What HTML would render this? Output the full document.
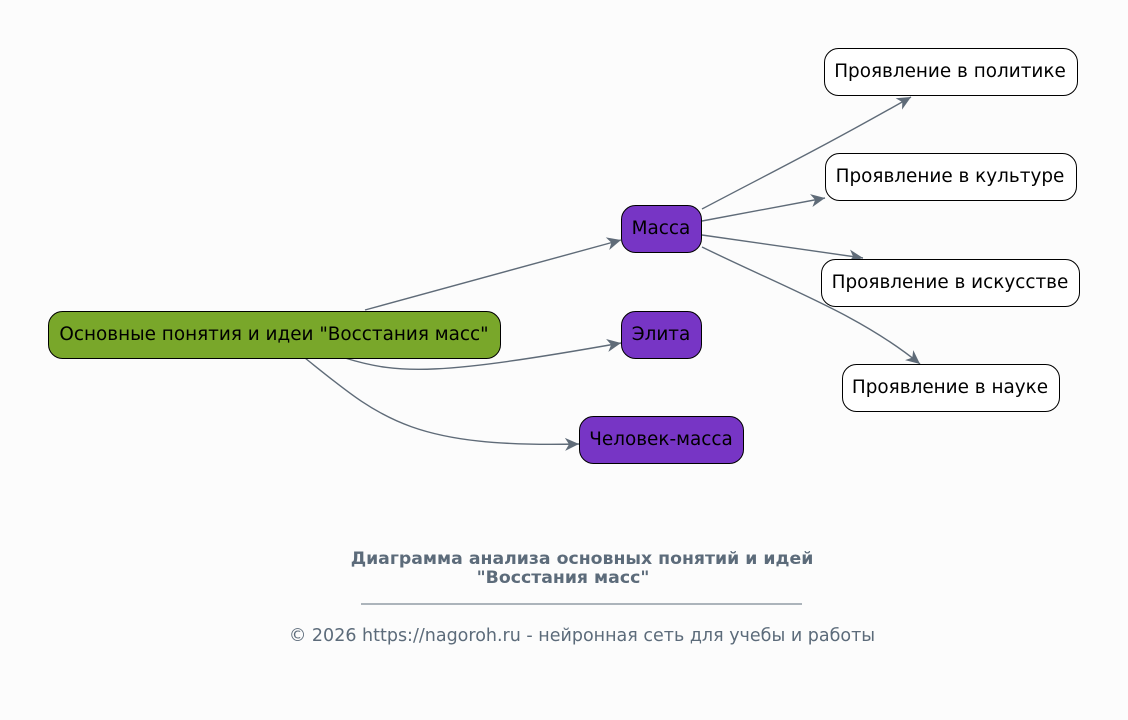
<!DOCTYPE html>
<html><head><meta charset="utf-8"><style>
html,body{margin:0;background:#fcfcfc;overflow:hidden;width:1128px;height:720px;}
svg{display:block;}
svg text{font-family:"DejaVu Sans","Liberation Sans",sans-serif;}
</style></head><body>
<svg width="1128" height="720" xmlns="http://www.w3.org/2000/svg">
<defs><marker id="a" viewBox="0 0 16 16" refX="15" refY="8" markerWidth="16" markerHeight="16" markerUnits="userSpaceOnUse" orient="auto"><path d="M1,1.5 L15,8 L1,14.5 L5,8 Z" fill="#5f6b78"/></marker></defs>
<g fill="none" stroke="#5f6b78" stroke-width="1.4" marker-end="url(#a)">
<path d="M365,310 L621,240"/>
<path d="M345,358 C400,375 440,375 621,343"/>
<path d="M305,358 C380,418 410,448 579,444"/>
<path d="M702,209 C780,168 830,143 911,97"/>
<path d="M702,221 L825,198"/>
<path d="M702,235 L863,258"/>
<path d="M702,247 C790,290 860,315 920,364"/>
</g>
<g stroke="#000" stroke-width="1">
<rect x="48.5" y="311.5" width="452" height="47" rx="14" fill="#79a72a"/>
<rect x="621.5" y="205.5" width="80" height="47" rx="14" fill="#7735c5"/>
<rect x="621.5" y="311.5" width="80" height="47" rx="14" fill="#7735c5"/>
<rect x="579.5" y="416.5" width="164" height="47" rx="14" fill="#7735c5"/>
<rect x="824.5" y="48.5" width="253" height="47" rx="14" fill="#fff"/>
<rect x="825.5" y="153.5" width="251" height="47" rx="14" fill="#fff"/>
<rect x="821.5" y="259.5" width="258" height="47" rx="14" fill="#fff"/>
<rect x="842.5" y="364.5" width="217" height="47" rx="14" fill="#fff"/>
</g>
<g font-size="18.4" fill="#000" text-anchor="middle">
<text x="274" y="340">Основные понятия и идеи "Восстания масс"</text>
<text x="661" y="234">Масса</text>
<text x="661" y="340">Элита</text>
<text x="661" y="445">Человек-масса</text>
<text x="950" y="77">Проявление в политике</text>
<text x="950" y="182">Проявление в культуре</text>
<text x="950" y="288">Проявление в искусстве</text>
<text x="950" y="393">Проявление в науке</text>
</g>
<g fill="#5c6b7a" text-anchor="middle">
<text x="582" y="564" font-size="17.3" font-weight="bold">Диаграмма анализа основных понятий и идей</text>
<text x="563" y="583" font-size="17.3" font-weight="bold">"Восстания масс"</text>
<line x1="361" y1="604" x2="802" y2="604" stroke="#5c6b7a" stroke-width="1"/>
<text x="582" y="641" font-size="17.5">© 2026 https://nagoroh.ru - нейронная сеть для учебы и работы</text>
</g>
</svg>
</body></html>
